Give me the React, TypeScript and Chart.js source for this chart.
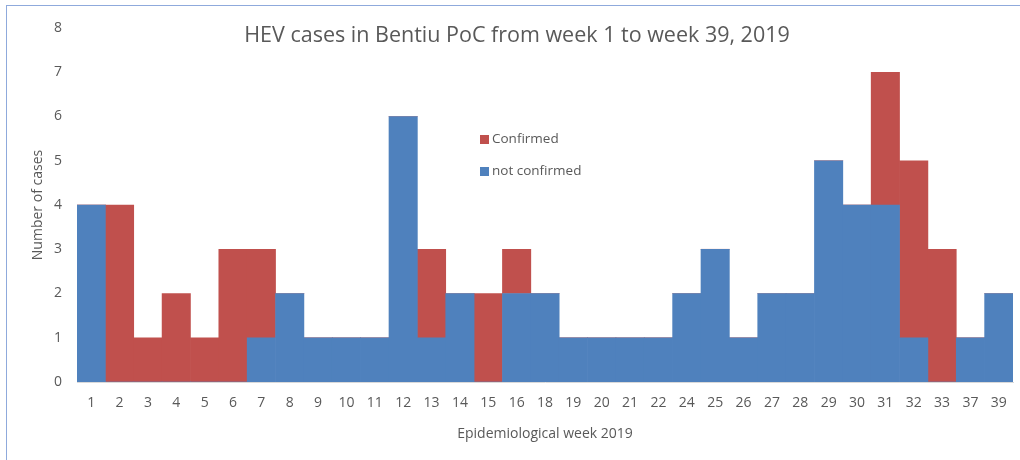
import React, { useEffect, useRef } from "react";
import { Chart, registerables } from "chart.js";

Chart.register(...registerables);

const weeks = ["1","2","3","4","5","6","7","8","9","10","11","12","13","14","15","16","18","19","20","21","22","24","25","26","27","28","29","30","31","32","33","37","39"];
const notConfirmed = [4,0,0,0,0,0,1,2,1,1,1,6,1,2,0,2,2,1,1,1,1,2,3,1,2,2,5,4,4,1,0,1,2];
const confirmed = [0,4,1,2,1,3,2,0,0,0,0,0,2,0,2,1,0,0,0,0,0,0,0,0,0,0,0,0,3,4,3,0,0];
const yTicks = [0,1,2,3,4,5,6,7,8];

const TITLE = "HEV cases in Bentiu PoC from week 1 to week 39, 2019";
const FONT = "'Open Sans', sans-serif";
const TEXT = "#595959";

const overlayPlugin = {
  id: "overlay",
  afterDraw(chart: any) {
    const ctx = chart.ctx;
    ctx.save();
    ctx.fillStyle = TEXT;
    ctx.font = `21.5px ${FONT}`;
    ctx.textAlign = "center";
    ctx.textBaseline = "middle";
    ctx.fillText(TITLE, 517, 36);
    // legend (reversed order)
    const ds = chart.data.datasets.slice().reverse();
    ctx.font = `13.5px ${FONT}`;
    ctx.textAlign = "left";
    ds.forEach((d: any, i: number) => {
      const y = 135 + i * 32;
      ctx.fillStyle = d.backgroundColor;
      ctx.fillRect(480, y, 9, 9);
      ctx.fillStyle = TEXT;
      ctx.fillText(d.label, 492, y + 4.5);
    });
    ctx.restore();
  },
};

export default function App() {
  const ref = useRef<HTMLCanvasElement>(null);
  useEffect(() => {
    if (!ref.current) return;
    const chart = new Chart(ref.current, {
      type: "bar",
      data: {
        labels: weeks,
        datasets: [
          { label: "not confirmed", data: notConfirmed, backgroundColor: "#4F81BD", borderWidth: 0 },
          { label: "Confirmed", data: confirmed, backgroundColor: "#C0504D", borderWidth: 0 },
        ],
      },
      options: {
        animation: false,
        responsive: false,
        maintainAspectRatio: false,
        layout: { padding: { left: 0, right: 7, top: 28, bottom: 0 } },
        plugins: { legend: { display: false }, title: { display: false }, tooltip: { enabled: false } },
        datasets: { bar: { categoryPercentage: 1, barPercentage: 1 } },
        scales: {
          x: {
            stacked: true,
            offset: true,
            grid: { display: false, drawTicks: false },
            border: { display: true, color: "#d9d9d9", width: 1 },
            ticks: { color: TEXT, font: { family: FONT, size: 14 }, padding: 13, maxRotation: 0, autoSkip: false },
            title: { display: true, text: "Epidemiological week 2019", color: TEXT, font: { family: FONT, size: 14 }, padding: { top: 0, bottom: 18 } },
            afterFit: (s: any) => { s.height = 78; },
          },
          y: {
            stacked: true,
            min: 0,
            max: 8,
            grid: { display: false, drawTicks: false },
            border: { display: false },
            afterBuildTicks: (s: any) => { s.ticks = yTicks.map((v) => ({ value: v })); },
            ticks: { color: TEXT, font: { family: FONT, size: 14 }, padding: 15 },
            title: { display: true, text: "Number of cases", color: TEXT, font: { family: FONT, size: 14 }, padding: { top: 30, bottom: 0 } },
            afterFit: (s: any) => { s.width = 77; },
          },
        },
      },
      plugins: [overlayPlugin],
    });
    return () => chart.destroy();
  }, []);
  return (
    <div style={{ position: "fixed", left: 0, top: 0, width: 1020, height: 460, background: "#fff" }}>
      <canvas ref={ref} width={1020} height={460} style={{ position: "absolute", left: 0, top: 0 }} />
      <div style={{ position: "absolute", left: 6, top: 5, width: 1020, height: 460, borderLeft: "1px solid #8faadc", borderTop: "1px solid #8faadc", pointerEvents: "none" }} />
    </div>
  );
}
